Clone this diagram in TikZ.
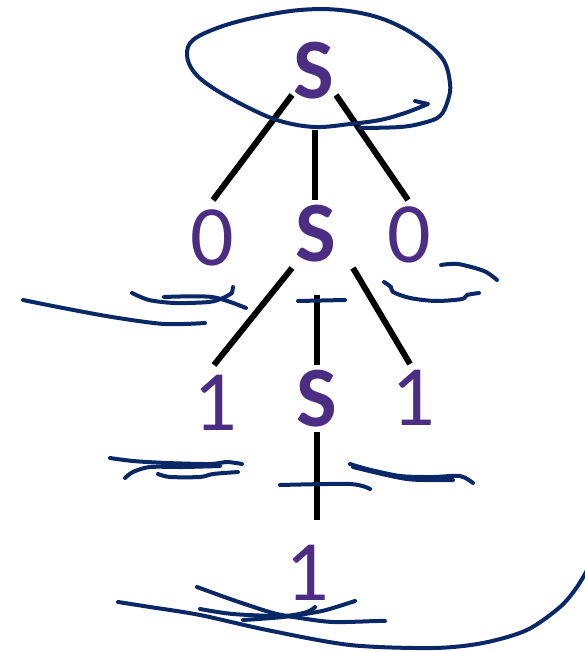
\documentclass[tikz,border=0pt]{standalone}
\usepackage{fontspec}
\setmainfont{Carlito}
\usetikzlibrary{positioning}
\definecolor{treepurple}{HTML}{4B2E83}
\definecolor{inkblue}{HTML}{0B2866}
\tikzset{
  sym/.style={text=treepurple, font=\fontsize{86}{90}\selectfont, inner sep=0pt},
  var/.style={sym, font=\fontsize{86}{90}\selectfont\bfseries},
  edge/.style={black, line width=6pt},
  ink/.style={inkblue, line width=4pt, line cap=round, line join=round}
}

\begin{document}
\begin{tikzpicture}[x=1pt, y=-1pt]
  \useasboundingbox (0,0) rectangle (584,652);
  % tree symbols
  \node[var] (sTop) at (314,71) {S};
  \node[sym] (zeroL) at (212,238) {0};
  \node[var] (sMid) at (316,234) {S};
  \node[sym] (zeroR) at (409,235) {0};
  \node[sym] (oneL) at (215,403) {1};
  \node[var] (sBot) at (317,399) {S};
  \node[sym] (oneR) at (413,398) {1};
  \node[sym] (oneBot) at (307,573) {1};
  % branches
  \draw[edge] ([shift={(-22,24)}]sTop.center) -- ([shift={(1,-38)}]zeroL.center);
  \draw[edge] ([shift={(1,59)}]sTop.center) -- ([shift={(-1,-34)}]sMid.center);
  \draw[edge] ([shift={(22,24)}]sTop.center) -- ([shift={(-1,-35)}]zeroR.center);
  \draw[edge] ([shift={(-24,34)}]sMid.center) -- ([shift={(-1,-38)}]oneL.center);
  \draw[edge] ([shift={(1,61)}]sMid.center) -- ([shift={(0,-34)}]sBot.center);
  \draw[edge] ([shift={(37,34)}]sMid.center) -- ([shift={(-3,-34)}]oneR.center);
  \draw[edge] ([shift={(0,33)}]sBot.center) -- ([shift={(10,-53)}]oneBot.center);
  % ink loop round the start symbol
  \draw[ink] plot[smooth, tension=0.6] coordinates {(360,128) (400,127) (423,123) (440,116) (448,100) (450,83) (442,58) (415,35) (380,18) (340,10) (300,10) (257,17) (220,27) (193,40) (187,55) (194,72) (213,88) (247,107) (280,121) (315,127) (350,124) (380,120) (405,113) (428,104)} -- (415,101);
  % ink strokes, second row
  \draw[ink] plot[smooth] coordinates {(23,300) (63,308) (112,317) (164,324) (205,323)};
  \draw[ink] plot[smooth] coordinates {(132,293) (149,300) (175,303) (209,302) (223,298) (232,293)} -- (233,287);
  \draw[ink] plot[smooth] coordinates {(164,297) (212,297) (246,308)};
  \draw[ink] (298,301) -- (345,300);
  \draw[ink] plot[smooth] coordinates {(384,282) (391,287) (393,292) (410,298) (436,301) (462,299) (467,295) (479,293)};
  \draw[ink] plot[smooth] coordinates {(441,265) (458,264) (484,271) (497,280)};
  % ink strokes, third row
  \draw[ink] plot[smooth] coordinates {(110,458) (133,461) (167,463) (210,464) (227,462) (242,464)};
  \draw[ink] plot[smooth] coordinates {(125,478) (133,472) (150,467) (183,467) (220,466)};
  \draw[ink] plot[smooth] coordinates {(158,474) (170,477) (200,477) (213,474) (238,472)};
  \draw[ink] plot[smooth] coordinates {(280,485) (350,484) (370,489)};
  \draw[ink] plot[smooth] coordinates {(350,464) (367,469) (400,476) (433,477) (460,476) (473,483)};
  \draw[ink] plot[smooth] coordinates {(353,467) (407,479) (453,480)};
  % ink strokes, bottom
  \draw[ink] plot[smooth] coordinates {(118,602) (150,607) (200,615) (267,630) (350,645) (433,648) (483,643) (527,630) (560,607) (577,587) (590,565)};
  \draw[ink] plot[smooth] coordinates {(197,587) (233,600) (273,613) (300,618) (333,622) (377,621) (385,621)};
  \draw[ink] plot[smooth] coordinates {(200,609) (233,614) (283,616) (307,612) (315,607)};
  \draw[ink] plot[smooth] coordinates {(243,620) (283,617) (317,612) (333,608) (355,601)};
\end{tikzpicture}
\end{document}
